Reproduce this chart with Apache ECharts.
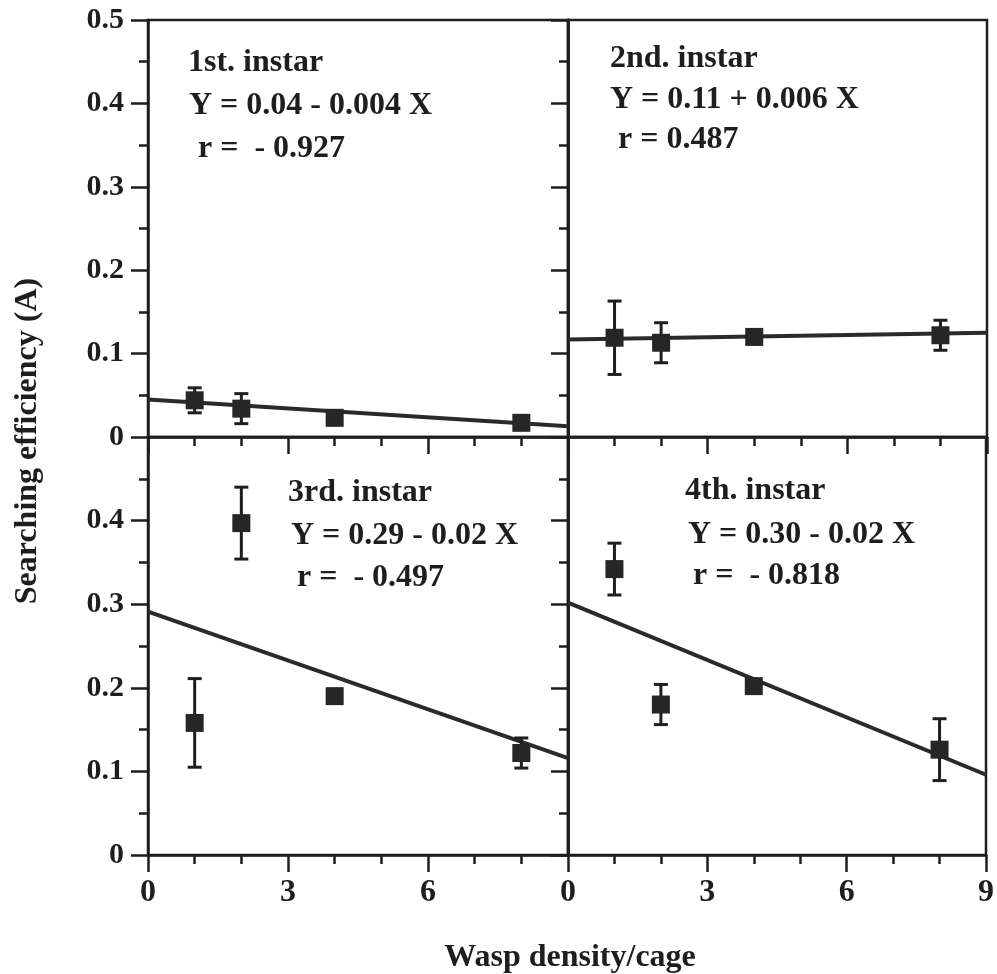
<!DOCTYPE html>
<html>
<head>
<meta charset="utf-8">
<script src="https://cdn.jsdelivr.net/npm/echarts@6/dist/echarts.min.js"></script>
<style>
html,body{margin:0;padding:0;background:#fff;}
#chart{width:997px;height:974px;}
</style>
</head>
<body>
<div id="chart"></div>
<script>
// ---- data ----
const densities = [1, 2, 4, 8];
const xTicks = [0, 3, 6, 9];
const yTicks = [0, 0.1, 0.2, 0.3, 0.4, 0.5];

const mean1 = [0.044, 0.034, 0.023, 0.017];
const err1  = [0.015, 0.018, 0, 0];
const line1 = [0.045, 0.013];   // fitted line at x=0 and x=9

const mean2 = [0.119, 0.113, 0.120, 0.122];
const err2  = [0.044, 0.024, 0, 0.018];
const line2 = [0.117, 0.125];

const mean3 = [0.158, 0.397, 0.190, 0.122];
const err3  = [0.053, 0.043, 0, 0.018];
const line3 = [0.291, 0.116];

const mean4 = [0.342, 0.180, 0.202, 0.126];
const err4  = [0.031, 0.024, 0, 0.037];
const line4 = [0.302, 0.096];

const labels1 = ['1st. instar', 'Y = 0.04 - 0.004 X', 'r =  - 0.927'];
const labels2 = ['2nd. instar', 'Y = 0.11 + 0.006 X', 'r = 0.487'];
const labels3 = ['3rd. instar', 'Y = 0.29 - 0.02 X', 'r =  - 0.497'];
const labels4 = ['4th. instar', 'Y = 0.30 - 0.02 X', 'r =  - 0.818'];

const yTitle = 'Searching efficiency (A)';
const xTitle = 'Wasp density/cage';

// ---- styling ----
const INK = '#1e1e1e';
const FONT = '"Liberation Serif", "Times New Roman", serif';
const chart = echarts.init(document.getElementById('chart'), null, {renderer: 'canvas'});

const grids = [
  {left: 148, top: 20,  width: 420, height: 417},
  {left: 568, top: 20,  width: 419, height: 417},
  {left: 148, top: 437, width: 420, height: 418},
  {left: 568, top: 437, width: 419, height: 418}
].map(g => Object.assign({show: true, borderColor: INK, borderWidth: 2.5, backgroundColor: 'transparent'}, g));

function xAxis(gi, showLabels, hideNine) {
  return {
    type: 'value', gridIndex: gi, min: xTicks[0], max: xTicks[xTicks.length - 1], interval: 3,
    position: 'bottom',
    axisLine: {show: true, onZero: false, lineStyle: {color: INK, width: 2.5}},
    axisTick: {show: true, length: 17, lineStyle: {color: INK, width: 2.5}},
    minorTick: {show: true, splitNumber: 3, length: 9, lineStyle: {color: INK, width: 2.5}},
    splitLine: {show: false},
    axisLabel: {
      show: showLabels, margin: 22, color: INK, fontFamily: FONT, fontWeight: 'bold', fontSize: 32,
      formatter: v => (hideNine && v === 9) ? '' : String(v)
    }
  };
}
function yAxis(gi, pos, opts) {
  return {
    type: 'value', gridIndex: gi, min: yTicks[0], max: yTicks[yTicks.length - 1], interval: 0.1,
    position: pos,
    axisLine: {show: true, onZero: false, lineStyle: {color: INK, width: 2.5}},
    axisTick: {show: opts.ticks, inside: !!opts.inside, length: 17, lineStyle: {color: INK, width: 2.5}},
    minorTick: {show: opts.ticks, splitNumber: 2, length: 9, lineStyle: {color: INK, width: 2.5}},
    splitLine: {show: false},
    axisLabel: {
      show: !!opts.labels, margin: 24, color: INK, fontFamily: FONT, fontWeight: 'bold', fontSize: 30,
      formatter: v => {
        if (opts.hideTop && Math.abs(v - 0.5) < 1e-9) return '';
        return Math.abs(v) < 1e-9 ? '0' : v.toFixed(1);
      }
    }
  };
}

const xAxes = [xAxis(0, false), xAxis(1, false), xAxis(2, true, true), xAxis(3, true, false)];
const yAxes = [
  yAxis(0, 'left',  {ticks: true, labels: true}),
  yAxis(0, 'right', {ticks: true, inside: true}),
  yAxis(1, 'left',  {ticks: false}),
  yAxis(2, 'left',  {ticks: true, labels: true, hideTop: true}),
  yAxis(2, 'right', {ticks: true, inside: true}),
  yAxis(3, 'left',  {ticks: false})
];
const yIdx = [0, 2, 3, 5];

const panels = [
  {mean: mean1, err: err1, line: line1},
  {mean: mean2, err: err2, line: line2},
  {mean: mean3, err: err3, line: line3},
  {mean: mean4, err: err4, line: line4}
];

function errRender(params, api) {
  const x = api.value(0), y = api.value(1), e = api.value(2);
  if (!(e > 0)) return null;
  const top = api.coord([x, y + e]);
  const bot = api.coord([x, y - e]);
  const half = 7;
  const style = {stroke: INK, lineWidth: 3};
  return {
    type: 'group',
    children: [
      {type: 'line', shape: {x1: top[0], y1: top[1], x2: bot[0], y2: bot[1]}, style},
      {type: 'line', shape: {x1: top[0] - half, y1: top[1], x2: top[0] + half, y2: top[1]}, style},
      {type: 'line', shape: {x1: bot[0] - half, y1: bot[1], x2: bot[0] + half, y2: bot[1]}, style}
    ]
  };
}

const series = [];
panels.forEach((p, i) => {
  series.push({
    type: 'line', xAxisIndex: i, yAxisIndex: yIdx[i],
    data: [[xTicks[0], p.line[0]], [xTicks[xTicks.length - 1], p.line[1]]],
    symbol: 'none', lineStyle: {color: '#2a2a2a', width: 4, opacity: 1}, z: 3, silent: true
  });
  series.push({
    type: 'custom', xAxisIndex: i, yAxisIndex: yIdx[i],
    data: densities.map((d, k) => [d, p.mean[k], p.err[k]]),
    renderItem: errRender, z: 4, silent: true
  });
  series.push({
    type: 'scatter', xAxisIndex: i, yAxisIndex: yIdx[i],
    data: densities.map((d, k) => [d, p.mean[k]]),
    symbol: 'rect', symbolSize: 18, itemStyle: {color: '#262626', opacity: 1}, z: 5, silent: true
  });
});

function textBlock(lines, xs, ys) {
  return lines.map((t, k) => ({
    type: 'text', left: xs[k], top: ys[k] - 17,
    style: {text: t, fill: INK, font: 'bold 32px ' + FONT, textVerticalAlign: 'top'}
  }));
}

const graphics = [].concat(
  textBlock(labels1, [188, 189, 198], [64, 107, 150]),
  textBlock(labels2, [610, 610, 618], [60, 101, 141]),
  textBlock(labels3, [288, 291, 297], [494, 537, 579]),
  textBlock(labels4, [685, 688, 693], [492, 536, 577]),
  [
    {type: 'text', x: 28, y: 441, rotation: Math.PI / 2,
     style: {text: yTitle, fill: INK, font: 'bold 32px ' + FONT, textAlign: 'center', textVerticalAlign: 'middle'}},
    {type: 'text', x: 570, y: 958,
     style: {text: xTitle, fill: INK, font: 'bold 32px ' + FONT, textAlign: 'center', textVerticalAlign: 'middle'}}
  ]
);

chart.setOption({
  animation: false,
  backgroundColor: '#fff',
  grid: grids,
  xAxis: xAxes,
  yAxis: yAxes,
  series: series,
  graphic: graphics
});
</script>
</body>
</html>
